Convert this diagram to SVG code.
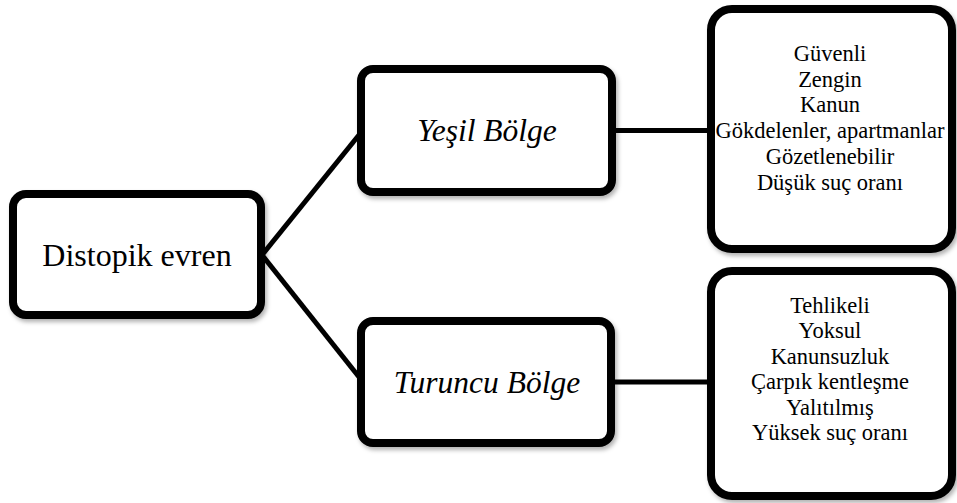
<svg xmlns="http://www.w3.org/2000/svg" width="957" height="503" viewBox="0 0 957 503">
<defs>
<filter id="sh" x="-10%" y="-10%" width="125%" height="130%">
<feDropShadow dx="2" dy="3" stdDeviation="2" flood-color="#000" flood-opacity="0.3"/>
</filter>
<style>
.box{fill:#fff;stroke:#000;stroke-width:8;filter:url(#sh)}
.con{stroke:#000;stroke-width:5;fill:none}
.t{font-family:'Liberation Serif','Times New Roman',serif;fill:#000;text-anchor:middle}
.main{font-size:32px}
.mid{font-size:31.5px;font-style:italic}
.list{font-size:22.5px}
</style>
</defs>
<rect width="957" height="503" fill="#fff"/>
<g id="connectors">
<line class="con" x1="262" y1="255" x2="363" y2="130"/>
<line class="con" x1="262" y1="255" x2="363" y2="382"/>
<line class="con" x1="612" y1="130.5" x2="712" y2="130.5"/>
<line class="con" x1="612" y1="382" x2="712" y2="382"/>
</g>
<g id="root">
<rect class="box" x="13" y="194" width="248" height="121" rx="13"/>
<text class="t main" x="137" y="266">Distopik evren</text>
</g>
<g id="yesil">
<rect class="box" x="361" y="69" width="251" height="123" rx="12"/>
<text class="t mid" x="487" y="141">Yeşil Bölge</text>
</g>
<g id="turuncu">
<rect class="box" x="361" y="321" width="250" height="122" rx="12"/>
<text class="t mid" x="487" y="393">Turuncu Bölge</text>
</g>
<g id="yesil-list">
<rect class="box" x="711" y="9" width="241" height="240" rx="21"/>
<text class="t list" x="830" y="61">Güvenli</text>
<text class="t list" x="830" y="87">Zengin</text>
<text class="t list" x="830" y="112">Kanun</text>
<text class="t list" x="830" y="138">Gökdelenler, apartmanlar</text>
<text class="t list" x="830" y="164">Gözetlenebilir</text>
<text class="t list" x="830" y="190">Düşük suç oranı</text>
</g>
<g id="turuncu-list">
<rect class="box" x="711" y="271" width="241" height="225" rx="21"/>
<text class="t list" x="830" y="313">Tehlikeli</text>
<text class="t list" x="830" y="338">Yoksul</text>
<text class="t list" x="830" y="364">Kanunsuzluk</text>
<text class="t list" x="830" y="389">Çarpık kentleşme</text>
<text class="t list" x="830" y="415">Yalıtılmış</text>
<text class="t list" x="830" y="440">Yüksek suç oranı</text>
</g>
</svg>
